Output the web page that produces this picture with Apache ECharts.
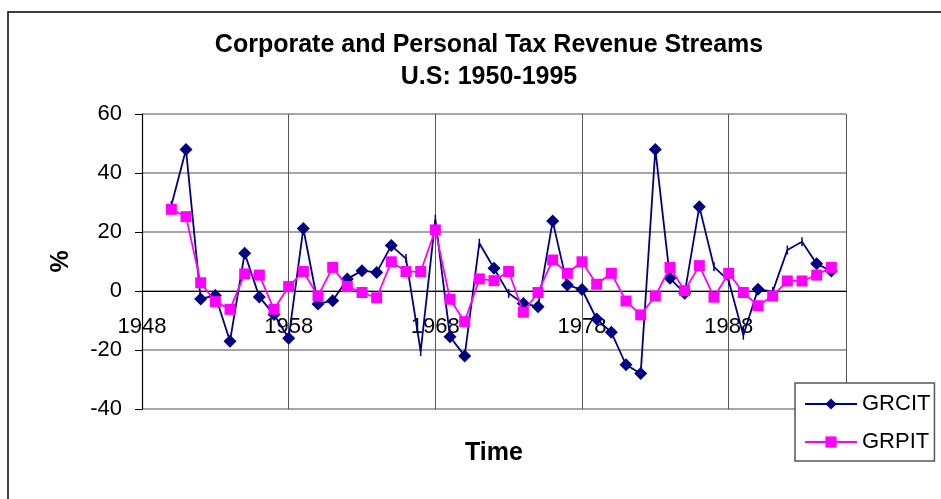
<!DOCTYPE html>
<html>
<head>
<meta charset="utf-8">
<script src="https://cdn.jsdelivr.net/npm/echarts@6/dist/echarts.min.js"></script>
<style>
html,body{margin:0;padding:0;background:#fff;}
#chart{width:941px;height:499px;}
</style>
</head>
<body>
<div id="chart"></div>
<script>
var years = [1950,1951,1952,1953,1954,1955,1956,1957,1958,1959,1960,1961,1962,1963,1964,1965,1966,1967,1968,1969,1970,1971,1972,1973,1974,1975,1976,1977,1978,1979,1980,1981,1982,1983,1984,1985,1986,1987,1988,1989,1990,1991,1992,1993,1994,1995];
var grcit = [29,48,-2.7,-1.5,-17,12.8,-2,-8,-16,21.2,-4.4,-3.3,4.1,6.9,6.3,15.4,11,-20.5,24.3,-15.5,-22,16.2,7.7,-0.8,-4.2,-5.3,23.7,2.0,0.5,-9.5,-14,-25,-28,48,4.3,-0.8,28.6,8.2,3.5,-15,0.6,-0.2,13.9,16.7,9.2,6.8];
var grpit = [27.7,25.2,2.8,-3.6,-6.2,5.8,5.4,-6.2,1.5,6.6,-1.7,8.0,1.5,-0.5,-2.3,9.9,6.6,6.6,20.7,-2.8,-10.4,4.1,3.5,6.6,-7.2,-0.5,10.5,6.0,9.9,2.3,6.0,-3.4,-8.1,-1.7,8.0,0.1,8.6,-2.1,6.0,-0.5,-5.0,-1.7,3.4,3.4,5.4,8.0];
var grcitNoMarker = [1950,1966,1967,1968,1971,1973,1987,1988,1989,1991,1992,1993];
var xMin = 1948, xMax = 1996, xStep = 10;
var yTicks = [-40,-20,0,20,40,60];

var chart = echarts.init(document.getElementById('chart'));
var font = '"Liberation Sans", Arial, sans-serif';

var grcitData = years.map(function(y,i){
  var d = {value:[y, grcit[i]]};
  if (grcitNoMarker.indexOf(y) >= 0) { d.symbol = 'rect'; d.symbolSize = [1.5, 9]; }
  return d;
});
var grpitData = years.map(function(y,i){ return [y, grpit[i]]; });

chart.setOption({
  animation:false,
  backgroundColor:'#fff',
  title:{
    text:'Corporate and Personal Tax Revenue Streams\nU.S: 1950-1995',
    left:484, top:24, textAlign:'center',
    textStyle:{fontFamily:font, fontSize:25, fontWeight:'bold', color:'#000', lineHeight:32}
  },
  graphic:[{type:'rect', shape:{x:8,y:12,width:1000,height:1000}, style:{fill:'none', stroke:'#000', lineWidth:1.5}, silent:true}],
  legend:{
    orient:'vertical', left:795, top:383,
    padding:[10,4,8,9], itemGap:16, itemWidth:52, itemHeight:14,
    borderColor:'#555', borderWidth:1.5, backgroundColor:'#fff',
    textStyle:{fontFamily:font, fontSize:22, color:'#000'},
    data:['GRCIT','GRPIT']
  },
  grid:{left:142, right:95, top:114, bottom:90, containLabel:false},
  xAxis:{
    type:'value', min:xMin, max:xMax, interval:xStep,
    offset:-118,
    name:'Time', nameLocation:'middle', nameGap:150,
    nameTextStyle:{fontFamily:font, fontSize:25, fontWeight:'bold', color:'#000'},
    axisLine:{onZero:false, lineStyle:{color:'#000', width:1.2}},
    axisTick:{show:false},
    axisLabel:{fontFamily:font, fontSize:22, color:'#000', margin:25, showMaxLabel:false,
      formatter:function(v){ return String(v); }},
    splitLine:{show:true, lineStyle:{color:'#555', width:1}}
  },
  yAxis:{
    type:'value', min:yTicks[0], max:yTicks[yTicks.length-1], interval:20,
    name:'%', nameLocation:'middle', nameGap:68, nameRotate:90,
    nameTextStyle:{fontFamily:font, fontSize:25, fontWeight:'bold', color:'#000'},
    axisLine:{show:true, lineStyle:{color:'#000', width:1.2}},
    axisTick:{show:true, inside:false, length:7, lineStyle:{color:'#000'}},
    axisLabel:{fontFamily:font, fontSize:22, color:'#000', margin:20},
    splitLine:{show:true, lineStyle:{color:'#888', width:1.5}}
  },
  series:[
    {name:'GRCIT', type:'line', data:grcitData, symbol:'diamond', symbolSize:13,
     color:'#000080', lineStyle:{color:'#000080', width:1.8}, itemStyle:{color:'#000080'}, z:2},
    {name:'GRPIT', type:'line', data:grpitData, symbol:'rect', symbolSize:11,
     color:'#ff00ff', lineStyle:{color:'#ff00ff', width:1.8}, itemStyle:{color:'#ff00ff'}, z:3}
  ]
});
</script>
</body>
</html>
